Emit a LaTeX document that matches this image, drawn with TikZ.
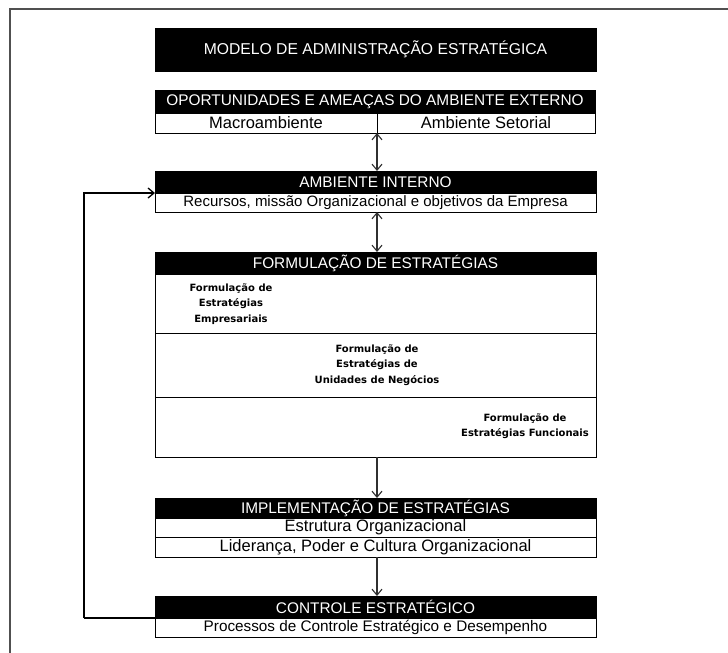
\documentclass[tikz,border=0pt]{standalone}
\usepackage{fontspec}
\setmainfont{Liberation Sans}
\newfontfamily\subfont{DejaVu Sans}
\usetikzlibrary{arrows.meta}
\definecolor{framegray}{HTML}{505050}
\definecolor{arrowgray}{HTML}{303030}
\tikzset{
  bar/.style={draw=black, fill=black, text=white, line width=0.8pt, inner sep=0pt, outer sep=0pt,
    anchor=north west, minimum width=441pt, font=\fontsize{15.4}{17}\selectfont},
  cell/.style={draw=black, fill=white, line width=0.9pt, inner sep=0pt, outer sep=0pt,
    anchor=north west, font=\fontsize{16.5}{18}\selectfont},
  subtext/.style={align=center, inner sep=0pt, font=\subfont\bfseries\fontsize{10}{15.6}\selectfont},
  link/.style={draw=arrowgray, line width=1.1pt},
  tipboth/.style={link, {Straight Barb[length=6pt,width=10pt]}-{Straight Barb[length=6pt,width=10pt]}},
  tipone/.style={link, -{Straight Barb[length=6pt,width=10pt]}},
  fb/.style={draw=black, line width=1.4pt}
}
\begin{document}
\begin{tikzpicture}[x=1pt,y=-1pt]
\useasboundingbox[fill=white] (0,0) rectangle (728,653);
% outer frame
\draw[framegray, line width=1.6pt] (10,653) -- (10,9) -- (728,9);

% title
\node[bar, minimum height=43pt, font=\fontsize{15.7}{17}\selectfont] (title) at (155,28) {MODELO DE ADMINISTRAÇÃO ESTRATÉGICA};

% external environment
\node[bar, minimum width=440pt, minimum height=23pt] (opbar) at (155,90) {OPORTUNIDADES E AMEAÇAS DO AMBIENTE EXTERNO};
\node[cell, minimum width=222pt, minimum height=20pt] (opleft) at (155,113) {Macroambiente};
\node[cell, minimum width=218pt, minimum height=20pt] (opright) at (377,113) {Ambiente Setorial};

% internal environment
\node[bar, minimum height=22pt] (ambbar) at (155,171) {AMBIENTE INTERNO};
\node[cell, minimum width=441pt, minimum height=19pt, font=\fontsize{15}{17}\selectfont] (ambrow) at (155,193) {Recursos, missão Organizacional e objetivos da Empresa};

% formulation
\node[bar, minimum height=22pt] (formbar) at (155,252) {FORMULAÇÃO DE ESTRATÉGIAS};
\node[cell, minimum width=441pt, minimum height=59pt] (sec1) at (155,274) {};
\node[cell, minimum width=441pt, minimum height=64pt] (sec2) at (155,333) {};
\node[cell, minimum width=441pt, minimum height=60pt] (sec3) at (155,397) {};
\node[subtext] (t1) at (231,304) {Formulação de\\Estratégias\\Empresariais};
\node[subtext] (t2) at (377,365) {Formulação de\\Estratégias de\\Unidades de Negócios};
\node[subtext] (t3) at (525,426) {Formulação de\\Estratégias Funcionais};

% implementation
\node[bar, minimum height=20pt] (implbar) at (155,498) {IMPLEMENTAÇÃO DE ESTRATÉGIAS};
\node[cell, minimum width=441pt, minimum height=19pt] (impl1) at (155,518) {Estrutura Organizacional};
\node[cell, minimum width=441pt, minimum height=20pt] (impl2) at (155,537) {Liderança, Poder e Cultura Organizacional};

% control
\node[bar, minimum height=22pt] (ctrlbar) at (155,596) {CONTROLE ESTRATÉGICO};
\node[cell, minimum width=441pt, minimum height=19pt, font=\fontsize{15.3}{17}\selectfont] (ctrlrow) at (155,618) {Processos de Controle Estratégico e Desempenho};

% vertical connectors
\coordinate (axis) at (377,0);
\draw[tipboth] (opleft.south east) -- (ambbar.north -| axis);
\draw[tipboth] (ambrow.south -| axis) -- (formbar.north -| axis);
\draw[tipone] (sec3.south -| axis) -- (implbar.north -| axis);
\draw[tipone] (impl2.south -| axis) -- (ctrlbar.north -| axis);

% feedback loop
\coordinate (fbx) at (84,400);
\draw[fb, line width=2.6pt] (ctrlbar.south west) -- (ctrlbar.south west -| fbx);
\draw[fb, -{Straight Barb[length=6pt,width=10pt]}, line width=1.3pt] (ctrlbar.south west -| fbx) -- (ambbar.south west -| fbx) -- (ambbar.south west);
\end{tikzpicture}
\end{document}
